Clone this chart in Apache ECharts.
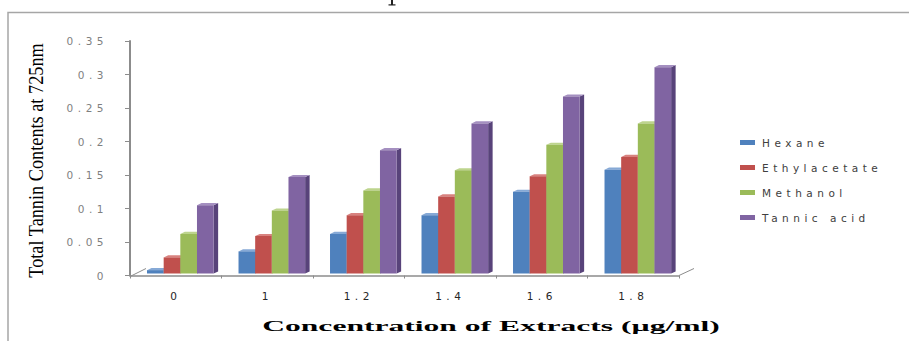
<!DOCTYPE html>
<html>
<head>
<meta charset="utf-8">
<script src="https://cdn.jsdelivr.net/npm/echarts@6/dist/echarts.min.js"></script>
<style>
  html, body { margin: 0; padding: 0; background: #fff; }
  #chart { position: absolute; left: 0; top: 0; width: 909px; height: 341px; }
  /* wide, airy sans lettering for ticks and legend */
  #chart text[style*="DejaVu"] { letter-spacing: 4.5px; }
</style>
</head>
<body>
<div id="chart"></div>
<script>
// Concentrations (category axis)
const categories = ['0', '1', '1.2', '1.4', '1.6', '1.8'];

// Total tannin contents (absorbance at 725 nm) per extract
const hexane       = [0.005, 0.033, 0.059, 0.087, 0.122, 0.155];
const ethylacetate = [0.024, 0.056, 0.087, 0.115, 0.145, 0.174];
const methanol     = [0.059, 0.094, 0.124, 0.154, 0.192, 0.224];
const tannicAcid   = [0.102, 0.144, 0.184, 0.224, 0.264, 0.308];

const seriesNames = ['Hexane', 'Ethylacetate', 'Methanol', 'Tannic acid'];
const seriesValues = [hexane, ethylacetate, methanol, tannicAcid];

// Y axis ticks
const yMin = 0, yMax = 0.35, yStep = 0.05;

// face colours: front, top, side
const palette = [
  ['#4F81BD', '#86A9D6', '#3A6190'],
  ['#C0504D', '#D8827F', '#8E3A38'],
  ['#9BBB59', '#BDD48D', '#738C41'],
  ['#8064A2', '#A48FC0', '#58437A']
];

const GRID = { left: 130, top: 41, width: 549, height: 234.5 };
const DEPTH_X = 4.5, DEPTH_Y = 2.1;   // visible depth of each column
const FLOOR_X = 15, FLOOR_Y = 7;      // floor receding edge

function columnRenderer(si) {
  return function (params, api) {
    const cat = api.value(0);
    const v = api.value(1);
    const base = api.coord([cat, 0]);
    const top = api.coord([cat, v]);
    const band = api.size([1, 0])[0];
    const w = band * 0.182;
    const shiftX = band * 0.05, shiftY = -2;
    const x0 = base[0] - 2 * w + si * w + shiftX;
    const x1 = x0 + w;
    const yb = base[1] + shiftY;
    const yt = top[1] + shiftY;
    const c = palette[si];
    return {
      type: 'group',
      children: [
        { type: 'polygon', shape: { points: [[x1, yt], [x1 + DEPTH_X, yt - DEPTH_Y], [x1 + DEPTH_X, yb - DEPTH_Y], [x1, yb]] },
          style: { fill: c[2] } },
        { type: 'polygon', shape: { points: [[x0, yt], [x1, yt], [x1 + DEPTH_X, yt - DEPTH_Y], [x0 + DEPTH_X, yt - DEPTH_Y]] },
          style: { fill: c[1] } },
        { type: 'rect', shape: { x: x0, y: yt, width: w, height: yb - yt },
          style: { fill: c[0] } }
      ]
    };
  };
}

function measure(font, s) {
  const ctx = document.createElement('canvas').getContext('2d');
  ctx.font = font;
  return ctx.measureText(s).width;
}

const yTitle = 'Total Tannin Contents at 725nm';
const yTitleFont = '20px "Liberation Serif"';
const xTitle = 'Concentration of Extracts (\u00b5g/ml)';
const xTitleFont = 'bold 15px "Liberation Serif"';

const chart = echarts.init(document.getElementById('chart'), null, { renderer: 'svg' });

const floorLeft = [GRID.left + 1, GRID.top + GRID.height];
const floorRight = [GRID.left + GRID.width, GRID.top + GRID.height];

chart.setOption({
  animation: false,
  backgroundColor: '#fff',
  grid: { left: GRID.left, top: GRID.top, width: GRID.width, height: GRID.height },
  legend: {
    orient: 'vertical',
    left: 740,
    top: 136,
    padding: 0,
    itemWidth: 15,
    itemHeight: 5,
    itemGap: 12,
    icon: 'rect',
    textStyle: { fontFamily: 'DejaVu Sans', fontSize: 10.5, color: '#404040', lineHeight: 13, padding: [0, 0, 0, 2] },
    data: seriesNames
  },
  xAxis: {
    type: 'category',
    data: categories,
    axisLine: { lineStyle: { color: '#8c8c8c', width: 1.5 } },
    axisTick: { show: true, length: 3, lineStyle: { color: '#8c8c8c' } },
    axisLabel: { interval: 0, margin: 15, fontFamily: 'DejaVu Sans', fontSize: 10.5, color: '#262626' },
    splitLine: { show: false }
  },
  yAxis: {
    type: 'value',
    min: yMin,
    max: yMax,
    interval: yStep,
    axisLine: { show: true, lineStyle: { color: '#8c8c8c', width: 2 } },
    axisTick: { show: true, length: 5, lineStyle: { color: '#8c8c8c' } },
    axisLabel: { margin: 22, fontFamily: 'DejaVu Sans', fontSize: 10.5, color: '#7f7f7f' },
    splitLine: { show: false }
  },
  series: seriesNames.map((name, si) => ({
    type: 'custom',
    name: name,
    coordinateSystem: 'cartesian2d',
    itemStyle: { color: palette[si][0] },
    renderItem: columnRenderer(si),
    encode: { x: 0, y: 1 },
    data: seriesValues[si].map((v, i) => [i, v])
  })),
  graphic: [
    // frame
    { type: 'polyline', shape: { points: [[8, 341], [8, 12.5], [909, 12.5]] },
      style: { stroke: '#a6a6a6', lineWidth: 1.5, fill: null } },
    // stub of the caption stroke above the frame
    { type: 'rect', shape: { x: 391, y: 0, width: 2, height: 5 }, style: { fill: '#222' } },
    { type: 'rect', shape: { x: 388.5, y: 4.3, width: 7, height: 1.2 }, style: { fill: '#222' } },
    // floor receding edges
    { type: 'line', shape: { x1: floorLeft[0], y1: floorLeft[1] + 0.5, x2: floorLeft[0] + FLOOR_X, y2: floorLeft[1] - FLOOR_Y },
      style: { stroke: '#8c8c8c', lineWidth: 1 } },
    { type: 'line', shape: { x1: floorRight[0], y1: floorRight[1], x2: floorRight[0] + FLOOR_X, y2: floorRight[1] - FLOOR_Y },
      style: { stroke: '#8c8c8c', lineWidth: 1 } },
    // axis titles
    { type: 'text', x: 36.5, y: 160.5, rotation: Math.PI / 2,
      scaleX: 235 / measure(yTitleFont, yTitle),
      style: { text: yTitle, font: yTitleFont, fill: '#000', align: 'center', verticalAlign: 'middle' } },
    { type: 'text', x: 491, y: 326,
      scaleX: 458 / measure(xTitleFont, xTitle),
      style: { text: xTitle, font: xTitleFont, fill: '#000', align: 'center', verticalAlign: 'middle' } }
  ]
});
</script>
</body>
</html>
